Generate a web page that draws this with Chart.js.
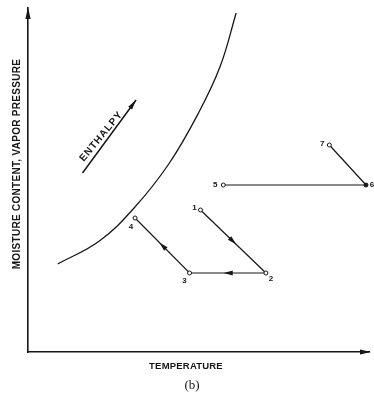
<!DOCTYPE html>
<html><head><meta charset="utf-8">
<script src="https://cdn.jsdelivr.net/npm/chart.js@4/dist/chart.umd.min.js"></script>
<style>html,body{margin:0;padding:0;background:#fff}#wrap{width:374px;height:394px}</style>
</head><body><div id="wrap"><canvas id="c" width="374" height="394"></canvas></div>
<script>
// ---- data (arbitrary units) ----
const pointNames  = ['1','2','3','4','5','6','7'];
const stateTemp   = [174, 240, 163, 108, 197, 341, 304];
const stateMoist  = [142,  79,  79, 134, 167, 167, 207];
const cycleA = ['1','2','3','4'];
const cycleB = ['5','6','7'];
const satTemp  = [30, 72, 107, 142, 172, 194, 210];
const satMoist = [88, 111, 144, 188, 239, 286, 339];
const enthalpyTemp  = [55, 109];
const enthalpyMoist = [179, 252];
const xTitle = 'TEMPERATURE';
const yTitle = 'MOISTURE CONTENT, VAPOR PRESSURE';
const caption = '(b)';
const enthalpyLabel = 'ENTHALPY';

// ---- styling ----
const INK = '#161616';
const SANS = '"Liberation Sans", Arial, sans-serif';
const labelOffsets = {'1':[-6,-2],'2':[5,6],'3':[-5,8],'4':[-4,9],'5':[-8,0],'6':[6,0],'7':[-7,-1]};
const ptIndex = n => pointNames.indexOf(n);
const toPts = names => names.map(n => ({x: stateTemp[ptIndex(n)], y: stateMoist[ptIndex(n)], n}));

const sketchPlugin = {
  id: 'sketch',
  afterDatasetsDraw(chart) {
    const {ctx, chartArea: a, scales: {x, y}} = chart;
    const px = v => x.getPixelForValue(v), py = v => y.getPixelForValue(v);
    function head(tx, ty, ang, len, hw) {
      ctx.save(); ctx.translate(tx, ty); ctx.rotate(ang);
      ctx.beginPath(); ctx.moveTo(0, 0); ctx.lineTo(-len, -hw); ctx.lineTo(-len, hw); ctx.closePath();
      ctx.fillStyle = INK; ctx.fill(); ctx.restore();
    }
    function text(str, tx, ty, rot, font, spacing, align) {
      ctx.save(); ctx.translate(tx, ty); ctx.rotate(rot);
      ctx.font = font;
      try { ctx.letterSpacing = spacing || '0px'; } catch (e) {}
      ctx.fillStyle = INK; ctx.textAlign = align || 'center'; ctx.textBaseline = 'middle';
      ctx.fillText(str, 0, 0);
      ctx.restore();
    }
    // axis arrowheads
    head(a.right + 2, a.bottom, 0, 11, 2.6);
    head(a.left, a.top - 1, -Math.PI / 2, 12, 2.6);
    // mid-segment flow arrows on cycle 1-2-3-4
    const pa = toPts(cycleA);
    for (let i = 0; i < pa.length - 1; i++) {
      const x0 = px(pa[i].x), y0 = py(pa[i].y), x1 = px(pa[i+1].x), y1 = py(pa[i+1].y);
      const ang = Math.atan2(y1 - y0, x1 - x0);
      const mx = (x0 + x1) / 2 + Math.cos(ang) * 4, my = (y0 + y1) / 2 + Math.sin(ang) * 4;
      head(mx, my, ang, 9, 2.4);
    }
    // enthalpy arrow head + label
    const ex0 = px(enthalpyTemp[0]), ey0 = py(enthalpyMoist[0]);
    const ex1 = px(enthalpyTemp[1]), ey1 = py(enthalpyMoist[1]);
    const eang = Math.atan2(ey1 - ey0, ex1 - ex0);
    head(ex1, ey1, eang, 10, 2.4);
    text(enthalpyLabel, (ex0 + ex1) / 2 - 8, (ey0 + ey1) / 2, -0.88, 'bold 10px ' + SANS, '1px');
    // state point labels
    pointNames.forEach((n, i) => {
      const o = labelOffsets[n];
      text(n, px(stateTemp[i]) + o[0], py(stateMoist[i]) + o[1], 0, 'bold 8px ' + SANS);
    });
    // axis titles and caption
    text(yTitle, a.left - 11, a.top + 156, -Math.PI / 2, 'bold 10px ' + SANS, '0.3px');
    text(xTitle, a.left + 158, a.bottom + 14, 0, 'bold 9.5px ' + SANS, '0.2px');
    text(caption, a.left + 164, 386, 0, '13px "Liberation Serif", "Times New Roman", serif');
  }
};

const lineDs = (data, extra) => Object.assign({
  data, showLine: true, borderColor: INK, borderWidth: 1.2, pointRadius: 0,
  tension: 0, clip: false, fill: false
}, extra);

new Chart(document.getElementById('c'), {
  type: 'scatter',
  data: {
    datasets: [
      lineDs(satTemp.map((t, i) => ({x: t, y: satMoist[i]})), {tension: 0.4, borderWidth: 1.3}),
      lineDs(enthalpyTemp.map((t, i) => ({x: t, y: enthalpyMoist[i]})), {borderWidth: 1.5}),
      lineDs(toPts(cycleA), {pointRadius: 2, pointBorderWidth: 1, pointBorderColor: INK, pointBackgroundColor: '#fff'}),
      lineDs(toPts(cycleB), {pointRadius: 2, pointBorderWidth: 1, pointBorderColor: INK,
        pointBackgroundColor: c => (c.raw && c.raw.n === '6') ? INK : '#fff'})
    ]
  },
  options: {
    responsive: false, animation: false, devicePixelRatio: 1,
    layout: {padding: {left: 28, right: 2, top: 8, bottom: 42}},
    plugins: {legend: {display: false}, tooltip: {enabled: false}},
    scales: {
      x: {
        type: 'linear', min: 0, max: 344,
        grid: {display: false, drawTicks: false},
        ticks: {display: false},
        border: {display: true, color: INK, width: 1.6},
        title: {display: false, text: xTitle}
      },
      y: {
        type: 'linear', min: 0, max: 344,
        grid: {display: false, drawTicks: false},
        ticks: {display: false},
        border: {display: true, color: INK, width: 1.6},
        title: {display: false, text: yTitle}
      }
    }
  },
  plugins: [sketchPlugin]
});
</script>
</body></html>
